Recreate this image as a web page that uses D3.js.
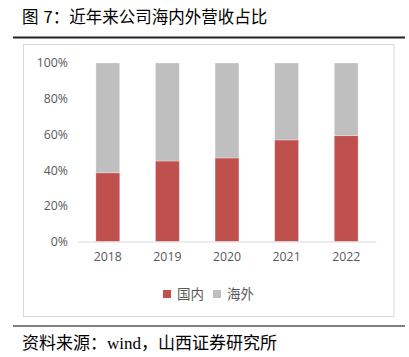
<!DOCTYPE html>
<html><head><meta charset="utf-8">
<script src="https://cdn.jsdelivr.net/npm/d3@7"></script>
<style>body{margin:0;background:#fff;}svg{display:block;}</style>
</head><body>
<svg id="c" width="409" height="357"></svg>
<script>
const categories = ["2018","2019","2020","2021","2022"];
const domestic = [38.5, 45.1, 46.8, 56.9, 59.3];
const overseas = domestic.map(d => 100 - d);
const seriesNames = ["国内","海外"];
const seriesColors = ["#C0504D","#BFBFBF"];
const yTicks = [0,20,40,60,80,100];

const svg = d3.select("#c");
const cjk = "'Noto Sans CJK SC','Noto Sans',sans-serif";

const title = svg.append("text").attr("x",22).attr("y",23).attr("font-family",cjk).attr("font-size",16.5).attr("fill","#000");
title.append("tspan").text("图");
title.append("tspan").attr("dx",5).text("7：近年来公司海内外营收占比");
svg.append("line").attr("x1",13).attr("x2",405).attr("y1",37.5).attr("y2",37.5).attr("stroke","#222").attr("stroke-width",2);

svg.append("rect").attr("x",23.5).attr("y",44.5).attr("width",370.5).attr("height",272).attr("fill","#fff").attr("stroke","#d9d9d9").attr("stroke-width",1);

const x = d3.scaleBand().domain(categories).range([78,376]).paddingInner(0.6).paddingOuter(0.3);
const y = d3.scaleLinear().domain([0,100]).range([241.5,63]);

const rows = categories.map((c,i)=>({cat:c, "国内":domestic[i], "海外":overseas[i]}));
const stack = d3.stack().keys(seriesNames)(rows);

svg.append("g").selectAll("g").data(stack).join("g").attr("fill",(d,i)=>seriesColors[i])
  .selectAll("rect").data(d=>d).join("rect")
  .attr("x",d=>x(d.data.cat)).attr("width",x.bandwidth())
  .attr("y",d=>y(d[1])).attr("height",d=>y(d[0])-y(d[1]))
  .attr("stroke","rgba(255,255,255,0.35)").attr("stroke-width",0.8);

const yAxis = svg.append("g").attr("transform","translate(78,0)")
  .call(d3.axisLeft(y).tickValues(yTicks).tickFormat(d=>d+"%").tickSize(0).tickPadding(10));
yAxis.select(".domain").remove();
yAxis.selectAll("text").attr("font-family","'Open Sans','DejaVu Sans',sans-serif").attr("font-size",12.3).attr("fill","#595959");

const xAxis = svg.append("g").attr("transform","translate(0,241.5)")
  .call(d3.axisBottom(x).tickSize(0).tickPadding(11));
xAxis.select(".domain").attr("stroke","#d9d9d9").attr("stroke-width",1.2);
xAxis.selectAll("text").attr("font-family","'Open Sans','DejaVu Sans',sans-serif").attr("font-size",12.3).attr("fill","#595959");

const legend = svg.append("g");
const lx = [163, 213];
seriesNames.forEach((n,i)=>{
  legend.append("rect").attr("x",lx[i]).attr("y",290).attr("width",8).attr("height",8).attr("fill",seriesColors[i]);
  legend.append("text").attr("x",lx[i]+14).attr("y",299).attr("font-family",cjk).attr("font-size",13.5).attr("fill","#595959").text(n);
});

svg.append("line").attr("x1",13).attr("x2",405).attr("y1",326).attr("y2",326).attr("stroke","#808080").attr("stroke-width",2);
const src = svg.append("text").attr("x",22).attr("y",349).attr("font-family",cjk).attr("font-size",17).attr("fill","#000");
src.append("tspan").text("资料来源：");
src.append("tspan").attr("font-family","'Liberation Serif',serif").text("wind");
src.append("tspan").text("，山西证券研究所");
</script>
</body></html>
